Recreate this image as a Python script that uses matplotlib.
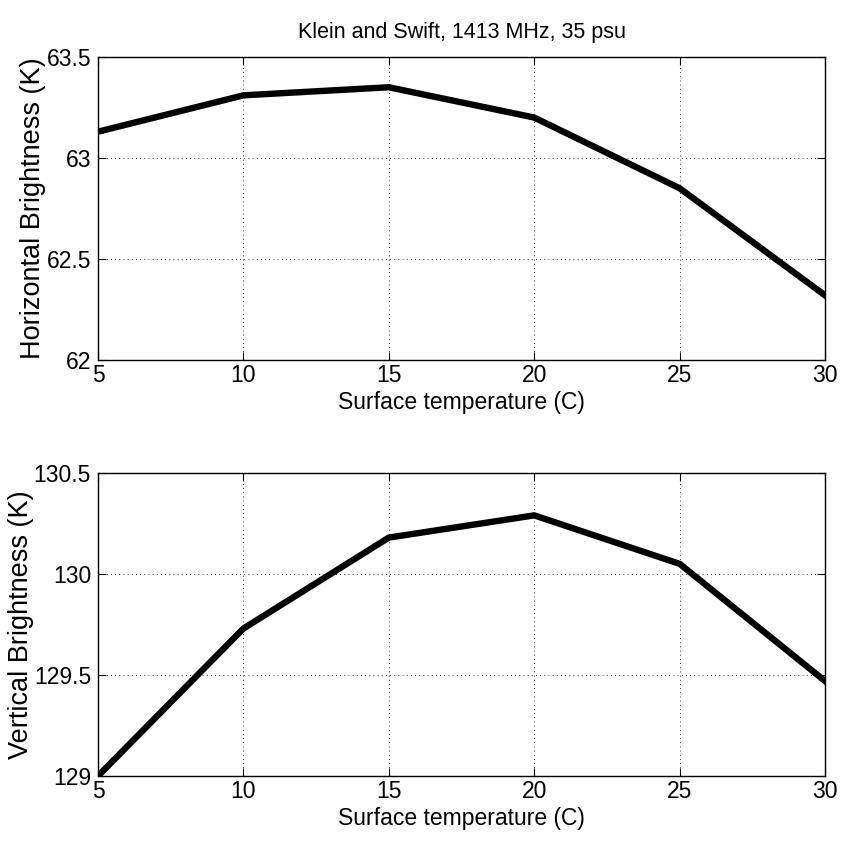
import numpy as np
import matplotlib.pyplot as plt

# surface temperature (C)
temp = [5, 10, 15, 20, 25, 30]
# brightness temperatures (K)
tb_h = [63.13, 63.31, 63.35, 63.20, 62.85, 62.32]
tb_v = [129.0, 129.73, 130.18, 130.29, 130.05, 129.47]

font = ['Liberation Sans', 'DejaVu Sans']

fig = plt.figure(figsize=(8.43, 8.5), dpi=100)
ax1 = fig.add_axes([0.1163, 0.5765, 0.8624, 0.3565])
ax2 = fig.add_axes([0.1163, 0.0871, 0.8624, 0.3565])

def style(ax, ylim, yticks, ylabel):
    ax.set_xlim(5, 30)
    ax.set_ylim(*ylim)
    ax.set_xticks(temp)
    ax.set_yticks(yticks)
    ax.set_xticklabels([str(t) for t in temp], fontfamily=font, fontsize=16.5)
    ax.set_yticklabels(['%g' % v for v in yticks], fontfamily=font, fontsize=16.5)
    ax.tick_params(axis='x', direction='in', top=True, length=6, width=0.8, pad=3)
    ax.tick_params(axis='y', direction='in', right=True, length=6, width=0.8, pad=5)
    ax.grid(True, color='black', linestyle=(0, (1, 4)), linewidth=0.6)
    ax.set_xlabel('Surface temperature (C)', fontfamily=font, fontsize=16.5, labelpad=3)
    ax.set_ylabel(ylabel, fontfamily=font, fontsize=19.5, labelpad=0)
    for s in ax.spines.values():
        s.set_linewidth(1.0)

ax1.plot(temp, tb_h, 'k-', linewidth=4.6, solid_joinstyle='miter')
style(ax1, (62, 63.5), [62, 62.5, 63, 63.5], 'Horizontal Brightness (K)')
ax1.set_title('Klein and Swift, 1413 MHz, 35 psu', fontfamily=font, fontsize=15.5, pad=14)

ax2.plot(temp, tb_v, 'k-', linewidth=4.6, solid_joinstyle='miter')
style(ax2, (129, 130.5), [129, 129.5, 130, 130.5], 'Vertical Brightness (K)')

fig.savefig('out.png', dpi=100)
